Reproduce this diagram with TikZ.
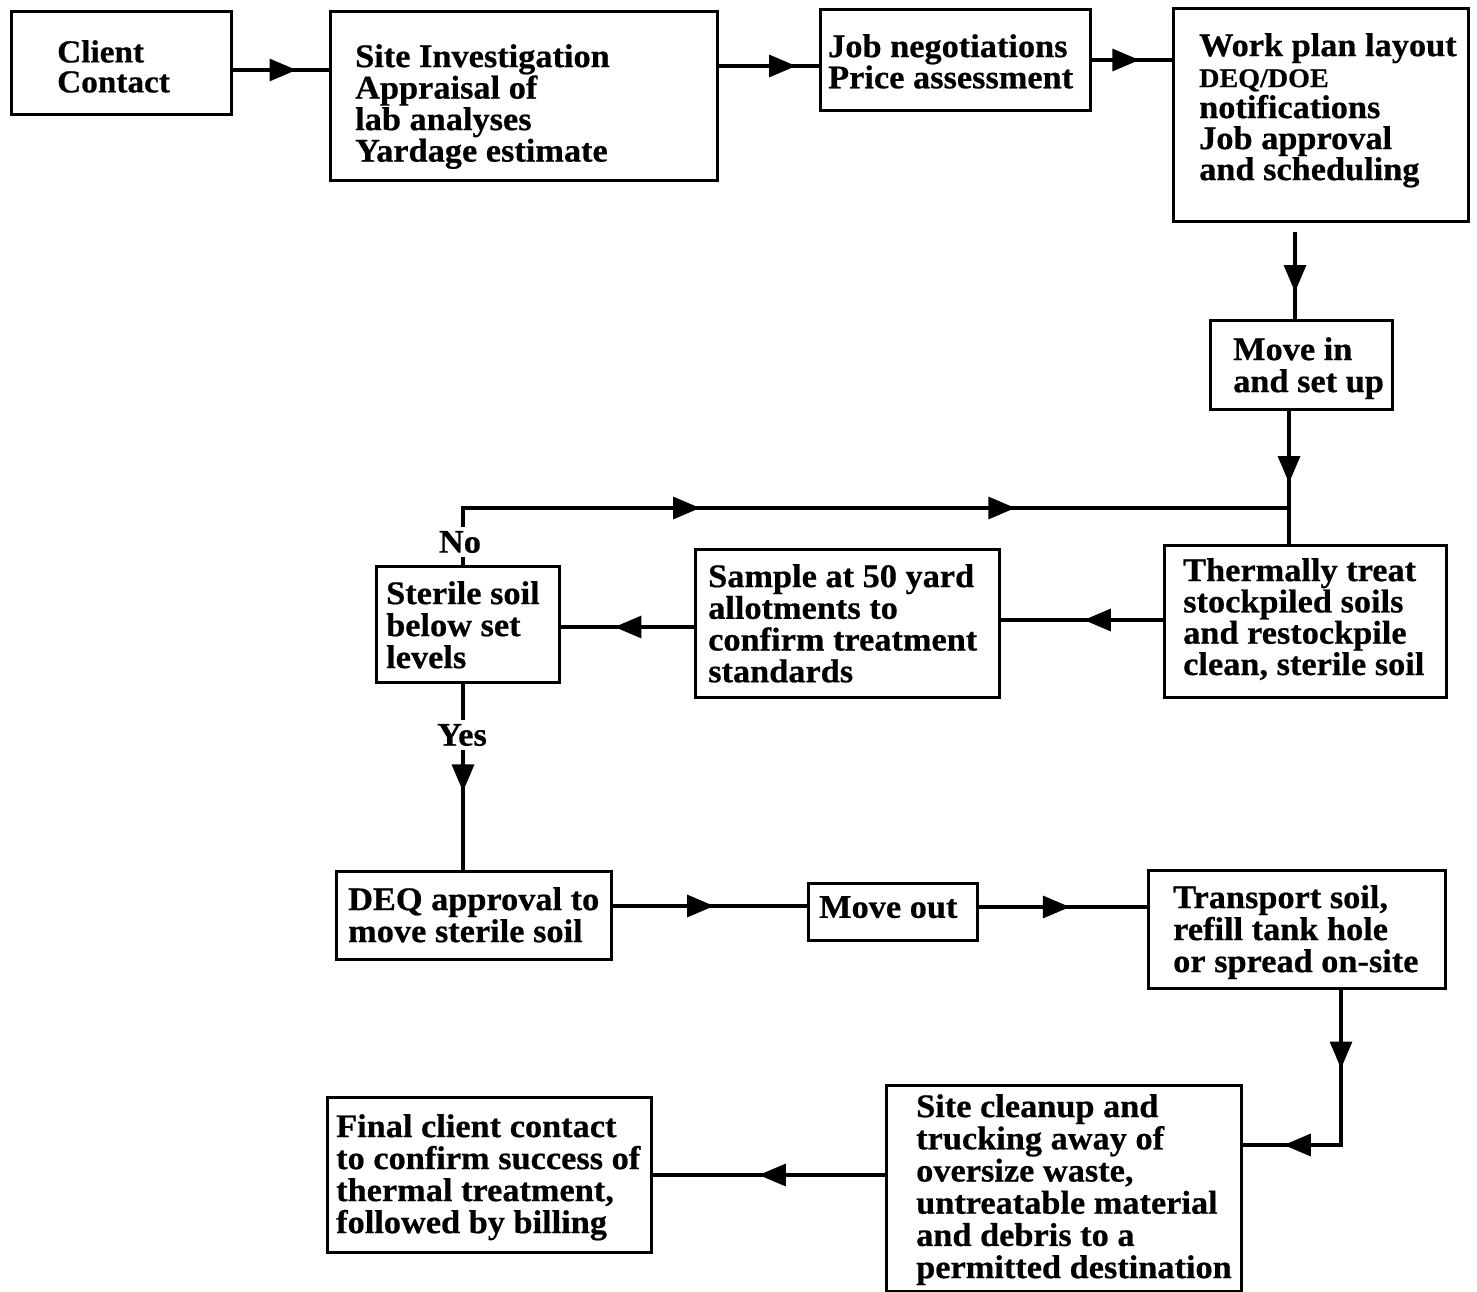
\documentclass[tikz,border=0pt]{standalone}
\usepackage{fontspec}
\setmainfont{Liberation Serif}[BoldFeatures={FakeStretch=1.04, FakeBold=0.6}]
\usetikzlibrary{arrows.meta,decorations.markings}
\tikzset{
  box/.style={draw, line width=3.4pt, rectangle, inner sep=0pt, anchor=north west},
  txt/.style={inner sep=0pt, anchor=north west, align=left, font=\bfseries\fontsize{33}{32}\selectfont},
  lbl/.style={inner sep=4pt, fill=white, font=\bfseries\fontsize{33}{32}\selectfont},
  conn/.style={line width=3.2pt},
  tipat/.style={postaction={decorate, decoration={markings, mark=at position #1 with {\arrow{Triangle[length=27pt,width=22pt]}}}}},
}
\begin{document}
\begin{tikzpicture}[x=1pt,y=-1pt]
\path[use as bounding box] (0,0) rectangle (1477,1292);

% boxes
\node[box, minimum width=220pt, minimum height=103pt] (cc) at (10,10) {};
\node[box, minimum width=387pt, minimum height=169pt] (si) at (329,10) {};
\node[box, minimum width=270pt, minimum height=101pt] (jn) at (819,8) {};
\node[box, minimum width=295pt, minimum height=213pt] (wp) at (1172,7) {};
\node[box, minimum width=182pt, minimum height=89pt] (mi) at (1209,319) {};
\node[box, minimum width=282pt, minimum height=152pt] (tt) at (1163,544) {};
\node[box, minimum width=304pt, minimum height=148pt] (sa) at (694,548) {};
\node[box, minimum width=183pt, minimum height=116pt] (ss) at (375,565) {};
\node[box, minimum width=275pt, minimum height=88pt] (dq) at (335,870) {};
\node[box, minimum width=169pt, minimum height=57pt] (mo) at (807,882) {};
\node[box, minimum width=297pt, minimum height=118pt] (ts) at (1147,869) {};
\node[box, minimum width=355pt, minimum height=206pt] (sc) at (885,1084) {};
\node[box, minimum width=324pt, minimum height=155pt] (fc) at (326,1096) {};

% texts
\node[txt, font=\bfseries\fontsize{32}{30}\selectfont] (cct) at (57,40) {Client\\Contact};
\node[txt, font=\bfseries\fontsize{33}{31.5}\selectfont] (sit) at (355,44) {Site Investigation\\Appraisal of\\lab analyses\\Yardage estimate};
\node[txt, font=\bfseries\fontsize{33}{30}\selectfont] (jnt) at (828,34) {Job negotiations\\Price assessment};
\node[txt, font=\bfseries\fontsize{33}{31}\selectfont] (wpt) at (1199,33) {Work plan layout\\{\fontsize{27}{31}\selectfont DEQ/DOE}\\notifications\\Job approval\\and scheduling};
\node[txt] (mit) at (1233,337) {Move in\\and set up};
\node[txt, font=\bfseries\fontsize{33}{31.3}\selectfont] (ttt) at (1183,558) {Thermally treat\\stockpiled soils\\and restockpile\\clean, sterile soil};
\node[txt, font=\bfseries\fontsize{33}{31.7}\selectfont] (sat) at (708,564) {Sample at 50 yard\\allotments to\\confirm treatment\\standards};
\node[txt] (sst) at (386,581) {Sterile soil\\below set\\levels};
\node[txt] (dqt) at (348,887) {DEQ approval to\\move sterile soil};
\node[txt] (mot) at (819,896) {Move out};
\node[txt] (tst) at (1173,885) {Transport soil,\\refill tank hole\\or spread on-site};
\node[txt, font=\bfseries\fontsize{33}{32.2}\selectfont] (sct) at (916,1094) {Site cleanup and\\trucking away of\\oversize waste,\\untreatable material\\and debris to a\\permitted destination};
\node[txt] (fct) at (336,1114) {Final client contact\\to confirm success of\\thermal treatment,\\followed by billing};

% connectors
\draw[conn, tipat=0.66] (cc.east |- 0,70) -- (si.west |- 0,70);
\draw[conn, tipat=0.77] (si.east |- 0,66) -- (jn.west |- 0,66);
\draw[conn, tipat=0.59] (jn.east |- 0,60) -- (wp.west |- 0,60);
\coordinate (wpout) at (1295,232);
\draw[conn, tipat=0.69] (wpout) -- (1295,0 |- mi.north);
\draw[conn, tipat=0.54] (1289,0 |- mi.south) -- (1289,0 |- tt.north);
\coordinate (j) at (1289,508);
\draw[conn, tipat=0.333, tipat=0.69] (463,0 |- ss.north) -- (463,508) -- (j);
\node[lbl] (no) at (460,542) {No};
\draw[conn, tipat=0.49] (tt.west |- 0,620) -- (sa.east |- 0,620);
\draw[conn, tipat=0.60] (sa.west |- 0,627) -- (ss.east |- 0,627);
\draw[conn, tipat=0.577] (463,0 |- ss.south) -- (463,0 |- dq.north);
\node[lbl] (yes) at (462,735) {Yes};
\draw[conn, tipat=0.52] (dq.east |- 0,906) -- (mo.west |- 0,906);
\draw[conn, tipat=0.54] (mo.east |- 0,907) -- (ts.west |- 0,907);
\draw[conn, tipat=0.31, tipat=0.84] (1341,0 |- ts.south) -- (1341,1145) -- (sc.east |- 0,1145);
\draw[conn, tipat=0.545] (sc.west |- 0,1175) -- (fc.east |- 0,1175);
\end{tikzpicture}
\end{document}
